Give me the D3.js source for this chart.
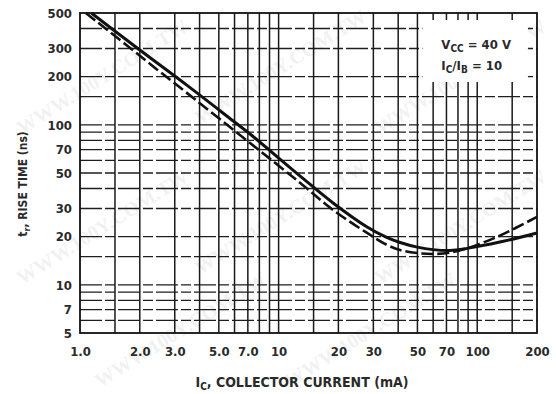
<!DOCTYPE html>
<html>
<head>
<meta charset="utf-8">
<script src="https://cdn.jsdelivr.net/npm/d3@7"></script>
<style>
  body { margin: 0; background: #fff; }
  text { font-family: "Liberation Sans Narrow", "DejaVu Sans Condensed", "Liberation Sans", sans-serif; }
</style>
</head>
<body>
<div id="chart"></div>
<script>
// Data
var currentTicks = [1, 2, 3, 5, 7, 10, 20, 30, 50, 70, 100, 200];
var currentTickLabels = ["1.0", "2.0", "3.0", "5.0", "7.0", "10", "20", "30", "50", "70", "100", "200"];
var timeTicks = [5, 7, 10, 20, 30, 50, 70, 100, 200, 300, 500];
var currentGrid = [1.5, 2, 3, 4, 5, 6, 7, 8, 9, 10, 15, 20, 30, 40, 50, 60, 70, 80, 90, 100, 150];
var timeGrid = [6, 7, 8, 9, 10, 15, 20, 30, 40, 50, 60, 70, 80, 90, 100, 150, 200, 300, 400];

var solidCurrent = [1.14, 1.94, 3.45, 5.89, 7.18, 12.8, 18.8, 27.9, 35, 40.9, 50, 59.9, 72.9, 88.9, 130, 200];
var solidTime    = [500, 302, 177, 106, 87.6, 48, 32.5, 23.0, 19.8, 18.4, 17.2, 16.6, 16.4, 16.9, 18.5, 21.1];
var dashCurrent  = [1.07, 1.73, 2.44, 3.19, 7.18, 12.8, 18.8, 27.9, 35, 40.9, 50, 59.9, 72.9, 88.9, 130, 200];
var dashTime     = [500, 312, 222, 171, 77, 43.5, 29.4, 21.1, 17.8, 16.5, 15.8, 15.6, 15.9, 16.9, 20.3, 26.6];

var svgWidth = 556;
var svgHeight = 394;
var margin = { top: 13, right: 19, bottom: 61, left: 80 };
var width = svgWidth - margin.left - margin.right;
var height = svgHeight - margin.top - margin.bottom;

var svg = d3.select("#chart")
  .append("svg")
  .attr("width", svgWidth)
  .attr("height", svgHeight);

// faint watermark
var marks = [[22, 135], [200, 125], [380, 135], [22, 285], [200, 275], [380, 285], [100, 388], [290, 388]];
svg.append("g").selectAll("text")
  .data(marks)
  .enter()
  .append("text")
  .attr("transform", d => `translate(${d[0]}, ${d[1]}) rotate(-32)`)
  .attr("font-weight", "bold")
  .attr("font-size", 20)
  .attr("fill", "#000")
  .attr("opacity", 0.05)
  .style("font-family", "'Liberation Serif', serif")
  .text("WWW.100Y.COM.TW");

var chartGroup = svg.append("g")
  .attr("transform", `translate(${margin.left}, ${margin.top})`);

var xScale = d3.scaleLog().domain([1, 200]).range([0, width]);
var yScale = d3.scaleLog().domain([5, 500]).range([height, 0]);

// horizontal grid (broken, like the scan)
chartGroup.append("g").selectAll("line")
  .data(timeGrid)
  .enter()
  .append("line")
  .attr("x1", 0)
  .attr("x2", width)
  .attr("y1", d => yScale(d))
  .attr("y2", d => yScale(d))
  .attr("stroke", "#1e1e1e")
  .attr("stroke-width", 1.4)
  .attr("stroke-dasharray", "22,3,10,3");

// vertical grid
chartGroup.append("g").selectAll("line")
  .data(currentGrid)
  .enter()
  .append("line")
  .attr("x1", d => xScale(d))
  .attr("x2", d => xScale(d))
  .attr("y1", 0)
  .attr("y2", height)
  .attr("stroke", "#1a1a1a")
  .attr("stroke-width", 1.5);

// frame
chartGroup.append("rect")
  .attr("width", width)
  .attr("height", height)
  .attr("fill", "none")
  .attr("stroke", "#111")
  .attr("stroke-width", 1.8);

// annotation box covering the grid
chartGroup.append("rect")
  .attr("x", xScale(53))
  .attr("y", 7)
  .attr("width", xScale(180) - xScale(53))
  .attr("height", 62)
  .attr("fill", "#fff");

var note = chartGroup.append("g")
  .attr("transform", `translate(${xScale(66)}, 0)`)
  .attr("font-size", 13)
  .attr("font-weight", "bold")
  .attr("fill", "#2a2a2a");

var vcc = note.append("text").attr("x", 0).attr("y", 36);
vcc.append("tspan").text("V");
vcc.append("tspan").attr("font-size", 10).attr("dy", 3).text("CC");
vcc.append("tspan").attr("dy", -3).text(" = 40 V");

var ratio = note.append("text").attr("x", 0).attr("y", 57);
ratio.append("tspan").text("I");
ratio.append("tspan").attr("font-size", 10).attr("dy", 3).text("C");
ratio.append("tspan").attr("dy", -3).text("/I");
ratio.append("tspan").attr("font-size", 10).attr("dy", 3).text("B");
ratio.append("tspan").attr("dy", -3).text(" = 10");

// curves
var line = d3.line()
  .x(d => xScale(d[0]))
  .y(d => yScale(d[1]))
  .curve(d3.curveCatmullRom.alpha(0.5));

chartGroup.append("path")
  .datum(d3.zip(dashCurrent, dashTime))
  .attr("d", line)
  .attr("fill", "none")
  .attr("stroke", "#111")
  .attr("stroke-width", 2.6)
  .attr("stroke-dasharray", "12,4");

chartGroup.append("path")
  .datum(d3.zip(solidCurrent, solidTime))
  .attr("d", line)
  .attr("fill", "none")
  .attr("stroke", "#111")
  .attr("stroke-width", 3);

// axes
var bottomAxis = d3.axisBottom(xScale)
  .tickValues(currentTicks)
  .tickFormat((d, i) => currentTickLabels[i])
  .tickSize(0)
  .tickPadding(14);

var leftAxis = d3.axisLeft(yScale)
  .tickValues(timeTicks)
  .tickFormat(d3.format("d"))
  .tickSize(0)
  .tickPadding(8);

var xAxis = chartGroup.append("g")
  .attr("transform", `translate(0, ${height})`)
  .call(bottomAxis);

var yAxis = chartGroup.append("g")
  .call(leftAxis);

[xAxis, yAxis].forEach(function(ax) {
  ax.select(".domain").remove();
  ax.selectAll("text")
    .attr("font-size", 13)
    .attr("font-weight", "bold")
    .attr("fill", "#2a2a2a")
    .style("font-family", "'Liberation Sans Narrow', 'DejaVu Sans Condensed', sans-serif");
});

// axis titles
var xTitle = svg.append("text")
  .attr("x", 302)
  .attr("y", 387)
  .attr("text-anchor", "middle")
  .attr("font-size", 14)
  .attr("font-weight", "bold")
  .attr("fill", "#2a2a2a");
xTitle.append("tspan").text("I");
xTitle.append("tspan").attr("font-size", 10).attr("dy", 3).text("C");
xTitle.append("tspan").attr("dy", -3).text(", COLLECTOR CURRENT (mA)");

var yTitle = svg.append("text")
  .attr("transform", "translate(27, 184) rotate(-90)")
  .attr("text-anchor", "middle")
  .attr("font-size", 12)
  .attr("font-weight", "bold")
  .attr("fill", "#2a2a2a");
yTitle.append("tspan").text("t");
yTitle.append("tspan").attr("font-size", 9).attr("dy", 3).text("r");
yTitle.append("tspan").attr("dy", -3).text(", RISE TIME (ns)");
</script>
</body>
</html>
